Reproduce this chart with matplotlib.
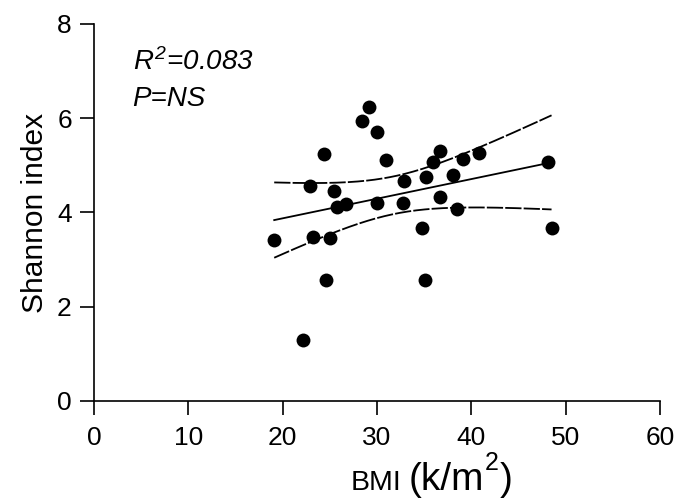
import numpy as np
import matplotlib
matplotlib.use("Agg")
from matplotlib import pyplot as plt

# BMI (k/m^2) vs Shannon index
bmi = [19.1, 22.1, 22.9, 23.2, 24.4, 24.6, 25.0, 25.4, 25.8, 26.7,
       28.4, 29.2, 30.0, 30.0, 31.0, 32.8, 32.9, 34.8, 35.1, 35.2,
       35.9, 36.7, 36.7, 38.0, 38.5, 39.1, 40.8, 48.1, 48.5]
shannon = [3.42, 1.30, 4.57, 3.47, 5.24, 2.57, 3.46, 4.45, 4.12, 4.19,
           5.94, 6.23, 5.71, 4.20, 5.11, 4.20, 4.67, 3.68, 2.57, 4.75,
           5.08, 5.31, 4.33, 4.80, 4.08, 5.13, 5.27, 5.07, 3.68]

xticks = [0, 10, 20, 30, 40, 50, 60]
yticks = [0, 2, 4, 6, 8]

plt.rcParams['font.family'] = ['Liberation Sans', 'DejaVu Sans']
plt.rcParams['mathtext.fontset'] = 'custom'
plt.rcParams['mathtext.rm'] = 'Liberation Sans'
plt.rcParams['mathtext.it'] = 'Liberation Sans:italic'

x = np.array(bmi)
y = np.array(shannon)

# linear fit + 95% confidence band
slope, icpt = np.polyfit(x, y, 1)
n = len(x)
resid = y - (slope * x + icpt)
s = np.sqrt(np.sum(resid ** 2) / (n - 2))
xs = np.linspace(x.min(), x.max(), 200)
t = 2.052  # t(0.975, 27)
se = s * np.sqrt(1 / n + (xs - x.mean()) ** 2 / np.sum((x - x.mean()) ** 2))
yfit = slope * xs + icpt

fig = plt.figure(figsize=(6.78, 4.99), dpi=100)
ax = fig.add_axes([0.1387, 0.1964, 0.8348, 0.7556])

ax.scatter(x, y, s=100, color='black', zorder=3, linewidths=0)
ax.plot(xs, yfit, color='black', lw=1.3)
ax.plot(xs, yfit + t * se, color='black', lw=1.3, dashes=(9, 1.2))
ax.plot(xs, yfit - t * se, color='black', lw=1.3, dashes=(9, 1.2))

ax.set_xlim(0, 60)
ax.set_ylim(0, 8)
ax.set_xticks(xticks)
ax.set_yticks(yticks)
ax.spines['top'].set_visible(False)
ax.spines['right'].set_visible(False)
for sp in ('left', 'bottom'):
    ax.spines[sp].set_linewidth(1.2)
ax.tick_params(length=10, width=1.2, labelsize=19)
ax.tick_params(axis='x', pad=8)
ax.tick_params(axis='y', pad=6)

ax.set_ylabel('Shannon index', fontsize=21.5, labelpad=6)

# x label in pieces: "BMI" smaller, "(k/m²)" larger
fig.text(351 / 678, 1 - 490 / 499, 'BMI', fontsize=20.5, ha='left', va='baseline')
fig.text(409 / 678, 1 - 490 / 499, '(k/m', fontsize=28, ha='left', va='baseline')
fig.text(485 / 678, 1 - 470 / 499, '2', fontsize=18, ha='left', va='baseline')
fig.text(500 / 678, 1 - 490 / 499, ')', fontsize=28, ha='left', va='baseline')

ax.text(0.068, 0.878, r'$R^{\mathregular{2}}$=0.083', transform=ax.transAxes,
        fontsize=20, style='italic', va='baseline', ha='left')
ax.text(0.068, 0.782, 'P=NS', transform=ax.transAxes,
        fontsize=20, style='italic', va='baseline', ha='left')

fig.savefig('out.png', dpi=100)
